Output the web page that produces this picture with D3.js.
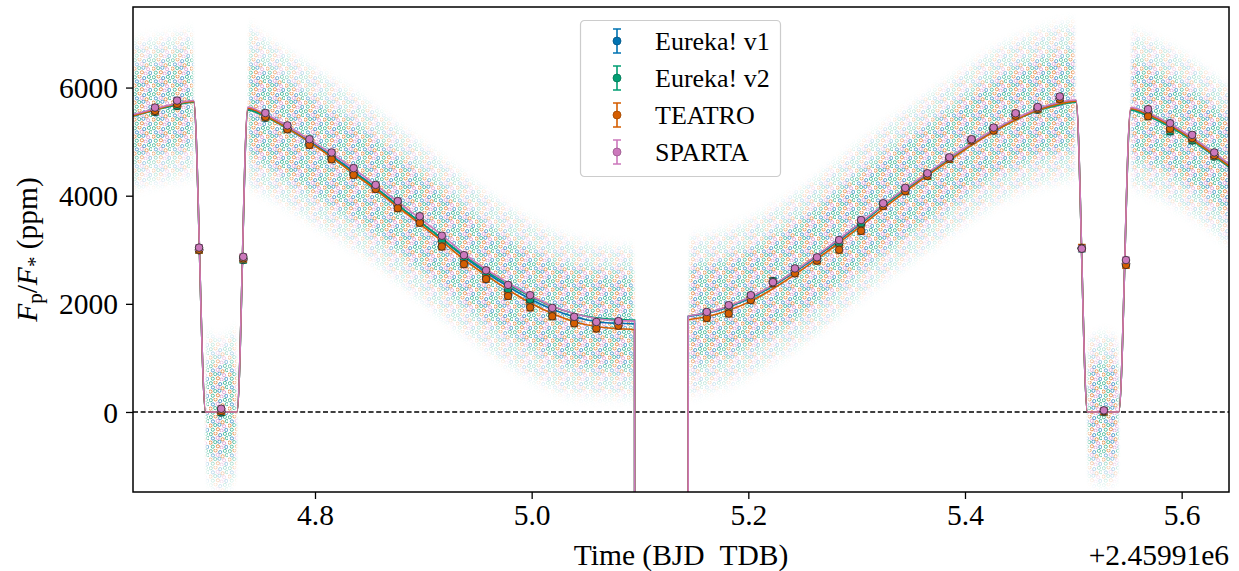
<!DOCTYPE html>
<html>
<head>
<meta charset="utf-8">
<script src="https://cdn.jsdelivr.net/npm/d3@7"></script>
<style>
  body { margin: 0; background: #fff; }
  svg text { font-family: "Liberation Serif", "Times New Roman", serif; fill: #000; }
</style>
</head>
<body>
<svg id="chart" width="1239" height="571"></svg>
<script>
// ---- data (time in BJD_TDB - 2459910) ----
var seriesNames  = ["Eureka! v1", "Eureka! v2", "TEATRO", "SPARTA"];
var seriesColors = ["#0173B2", "#029E73", "#D55E00", "#CC78BC"];
var seriesErr    = [55, 55, 60, 50];

var binTimes = [4.6523, 4.6727, 4.6930, 4.7134, 4.7338, 4.7542, 4.7745, 4.7949, 4.8153, 4.8356,
  4.8560, 4.8764, 4.8967, 4.9171, 4.9375, 4.9579, 4.9782, 4.9986, 5.0190, 5.0393, 5.0597, 5.0801,
  5.1616, 5.1819, 5.2023, 5.2227, 5.2430, 5.2634, 5.2838, 5.3041, 5.3245, 5.3449, 5.3653, 5.3856,
  5.4060, 5.4264, 5.4467, 5.4671, 5.4875, 5.5078, 5.5282, 5.5486, 5.5690, 5.5893, 5.6097, 5.6301];

var binV1 = [5580, 5690, 3010, 10, 2830, 5470, 5250, 4990, 4740, 4450, 4160, 3820, 3550, 3150, 2850,
  2510, 2230, 2020, 1840, 1690, 1610, 1640, 1800, 1930, 2120, 2410, 2610, 2830, 3110, 3480, 3830,
  4110, 4390, 4690, 5030, 5240, 5500, 5610, 5800, 3030, 10, 2750, 5540, 5250, 5060, 4760];
var binV2 = [5550, 5660, 2990, -10, 2810, 5440, 5240, 4980, 4720, 4430, 4150, 3810, 3540, 3150, 2830,
  2560, 2270, 2080, 1880, 1720, 1650, 1670, 1810, 1930, 2120, 2420, 2610, 2830, 3120, 3490, 3830,
  4110, 4390, 4690, 5030, 5230, 5500, 5590, 5790, 3020, 0, 2740, 5520, 5190, 5020, 4725];
var binTeatro = [5570, 5700, 3000, 20, 2840, 5460, 5230, 4940, 4675, 4385, 4125, 3770, 3500, 3060, 2735,
  2460, 2145, 1935, 1770, 1640, 1545, 1595, 1740, 1820, 2070, 2380, 2565, 2800, 3000, 3350, 3810,
  4085, 4365, 4680, 5020, 5205, 5480, 5610, 5790, 3035, 15, 2720, 5470, 5240, 5065, 4750];
var binSparta = [5630, 5760, 3040, 60, 2870, 5530, 5300, 5045, 4800, 4510, 4200, 3900, 3620, 3260, 2900,
  2620, 2350, 2160, 1925, 1760, 1665, 1680, 1850, 1975, 2160, 2400, 2655, 2860, 3180, 3550, 3860,
  4145, 4415, 4710, 5045, 5260, 5525, 5640, 5835, 3020, 30, 2810, 5600, 5340, 5125, 4800];

// model curves (knots incl. eclipse / transit contact points)
var modelTimes = [4.632, 4.6523, 4.6727, 4.688, 4.699, 4.728, 4.738, 4.7542, 4.7745, 4.7949, 4.8153,
  4.8356, 4.8560, 4.8764, 4.8967, 4.9171, 4.9375, 4.9579, 4.9782, 4.9986, 5.0190, 5.0393, 5.0597,
  5.0801, 5.095, 5.0955, 5.1440, 5.1445, 5.1616, 5.1819, 5.2023, 5.2227, 5.2430, 5.2634, 5.2838,
  5.3041, 5.3245, 5.3449, 5.3653, 5.3856, 5.4060, 5.4264, 5.4467, 5.4671, 5.4875, 5.5025, 5.513,
  5.542, 5.553, 5.5690, 5.5893, 5.6097, 5.6301, 5.6437];
var modelV1 = [5490, 5600, 5700, 5750, 0, 0, 5600, 5480, 5260, 5010, 4740, 4450, 4150, 3830, 3520,
  3200, 2870, 2580, 2320, 2090, 1900, 1760, 1670, 1640, 1630, -30000, -30000, 1760, 1820, 1940, 2110,
  2330, 2590, 2880, 3180, 3490, 3810, 4110, 4400, 4680, 4950, 5200, 5410, 5590, 5710, 5760, 0, 0,
  5600, 5500, 5300, 5050, 4760, 4560];
var modelV2 = [5470, 5580, 5680, 5730, 0, 0, 5580, 5460, 5240, 4990, 4720, 4430, 4140, 3820, 3520,
  3210, 2890, 2610, 2360, 2140, 1950, 1820, 1740, 1710, 1700, -30000, -30000, 1770, 1830, 1950, 2120,
  2340, 2600, 2890, 3190, 3500, 3810, 4110, 4400, 4680, 4940, 5190, 5400, 5570, 5680, 5730, 0, 0,
  5580, 5470, 5270, 5020, 4730, 4530];
var modelTeatro = [5480, 5590, 5700, 5745, 0, 0, 5620, 5480, 5250, 4990, 4710, 4410, 4110, 3790, 3480,
  3160, 2820, 2530, 2260, 2020, 1820, 1670, 1580, 1540, 1520, -30000, -30000, 1700, 1760, 1880, 2050,
  2280, 2540, 2830, 3130, 3440, 3760, 4070, 4370, 4650, 4930, 5180, 5400, 5580, 5700, 5750, 0, 0,
  5610, 5500, 5300, 5040, 4750, 4550];
var modelSparta = [5500, 5610, 5710, 5760, 0, 0, 5640, 5510, 5290, 5040, 4780, 4500, 4200, 3890, 3580,
  3270, 2930, 2640, 2390, 2160, 1960, 1820, 1730, 1690, 1680, -30000, -30000, 1770, 1830, 1960, 2130,
  2350, 2610, 2900, 3200, 3510, 3830, 4130, 4420, 4700, 4970, 5220, 5430, 5610, 5730, 5770, 0, 0,
  5630, 5530, 5330, 5080, 4790, 4590];

// extent of the raw (unbinned) point cloud; null separates gaps
var cloudTimes = [4.632, 4.660, 4.687, null, 4.700, 4.713, 4.727, null,
  4.739, 4.76, 4.80, 4.84, 4.88, 4.92, 4.96, 5.00, 5.04, 5.094, null,
  5.146, 5.18, 5.22, 5.26, 5.30, 5.34, 5.38, 5.42, 5.46, 5.501, null,
  5.514, 5.528, 5.541, null, 5.554, 5.58, 5.61, 5.6437];
var cloudCoreHi = [6300, 6450, 6550, null, 800, 850, 850, null,
  6450, 6250, 5700, 5250, 4650, 4030, 3400, 2930, 2620, 2500, null,
  2620, 2780, 3170, 3690, 4330, 4930, 5470, 6030, 6410, 6610, null,
  800, 850, 800, null, 6450, 6250, 5900, 5400];
var cloudCoreLo = [4700, 4850, 4950, null, -750, -800, -750, null,
  4800, 4550, 4050, 3550, 2950, 2330, 1710, 1230, 920, 800, null,
  920, 1080, 1470, 1990, 2630, 3230, 3770, 4330, 4710, 4910, null,
  -750, -800, -750, null, 4750, 4550, 4200, 3700];
var cloudOuterHi = [6800, 6900, 7000, null, 1400, 1300, 1500, null,
  7100, 6800, 6300, 5800, 5200, 4600, 4000, 3500, 3150, 3000, null,
  3170, 3330, 3720, 4240, 4880, 5480, 6020, 6580, 6960, 7160, null,
  1300, 1400, 1300, null, 7000, 6800, 6450, 5950];
var cloudOuterLo = [4200, 4300, 4400, null, -1200, -1400, -1200, null,
  4200, 4000, 3500, 3000, 2400, 1750, 1150, 650, 350, 300, null,
  370, 530, 920, 1440, 2080, 2680, 3220, 3780, 4160, 4360, null,
  -1200, -1300, -1200, null, 4200, 4000, 3650, 3150];

var xTicks = [4.8, 5.0, 5.2, 5.4, 5.6];
var yTicks = [0, 2000, 4000, 6000];

// ---- chart ----
var svg = d3.select("#chart"),
    margin = {top: 7, right: 10, bottom: 79, left: 133};
var width  = 1239 - margin.left - margin.right;
var height = 571 - margin.top - margin.bottom;
var canvas = svg.append("g").attr("transform", "translate(" + margin.left + "," + margin.top + ")");

var x = d3.scaleLinear().domain([4.632, 5.6437]).range([0, width]);
var y = d3.scaleLinear().domain([-1480, 7490]).range([height, 0]);

var defs = svg.append("defs");
defs.append("clipPath").attr("id", "plotClip")
  .append("rect").attr("width", width).attr("height", height);

// texture of tiny hollow circles standing in for the raw points
var pat = defs.append("pattern").attr("id", "rawPts")
  .attr("patternUnits", "userSpaceOnUse").attr("width", 19).attr("height", 17);
var patDots = [[1.8, 2.2, 1], [6.5, 1.4, 2], [11.2, 3.1, 0], [15.9, 1.9, 1], [3.9, 6.4, 0],
  [8.7, 5.9, 3], [13.6, 7.3, 2], [17.8, 6.1, 1], [1.5, 10.6, 2], [6.2, 10.1, 1], [10.4, 9.8, 0],
  [15.1, 11.2, 3], [3.8, 14.7, 1], [8.9, 14.3, 2], [12.6, 15.6, 3], [17.3, 15.0, 0]];
patDots.forEach(function(d) {
  pat.append("circle").attr("cx", d[0]).attr("cy", d[1]).attr("r", 1.6)
    .attr("fill", "none").attr("stroke", seriesColors[d[2]])
    .attr("stroke-width", 0.9).attr("stroke-opacity", 0.72);
});

defs.append("filter").attr("id", "soft")
  .attr("filterUnits", "userSpaceOnUse").attr("x", -50).attr("y", -50)
  .attr("width", width + 100).attr("height", height + 100)
  .append("feGaussianBlur").attr("stdDeviation", "1.5 7");

var cloud = cloudTimes.map(function(t, i) {
  return {t: t, ch: cloudCoreHi[i], cl: cloudCoreLo[i], oh: cloudOuterHi[i], ol: cloudOuterLo[i]};
});
var outerArea = d3.area().defined(function(d) { return d.t !== null; })
  .x(function(d) { return x(d.t); })
  .y0(function(d) { return y(d.ol); }).y1(function(d) { return y(d.oh); })
  .curve(d3.curveMonotoneX);
var coreArea = d3.area().defined(function(d) { return d.t !== null; })
  .x(function(d) { return x(d.t); })
  .y0(function(d) { return y(d.cl); }).y1(function(d) { return y(d.ch); })
  .curve(d3.curveMonotoneX);

var mask = defs.append("mask").attr("id", "cloudMask")
  .attr("maskUnits", "userSpaceOnUse").attr("x", 0).attr("y", 0)
  .attr("width", width).attr("height", height);
var mg = mask.append("g").attr("filter", "url(#soft)");
mg.append("path").attr("d", outerArea(cloud)).attr("fill", "#6a6a6a");
mg.append("path").attr("d", coreArea(cloud)).attr("fill", "#ffffff");

var plot = canvas.append("g").attr("clip-path", "url(#plotClip)");

plot.append("rect").attr("width", width).attr("height", height)
  .attr("fill", "url(#rawPts)").attr("mask", "url(#cloudMask)");

// zero line
plot.append("line")
  .attr("x1", 0).attr("x2", width).attr("y1", y(0)).attr("y2", y(0))
  .attr("stroke", "#000").attr("stroke-width", 1.3).attr("stroke-dasharray", "5,2.6");

// models
var models = [modelV1, modelV2, modelTeatro, modelSparta];
var line = d3.line().curve(d3.curveMonotoneX)
  .x(function(d) { return x(d[0]); })
  .y(function(d) { return y(d[1]); });
models.forEach(function(m, k) {
  plot.append("path")
    .datum(modelTimes.map(function(t, i) { return [t, m[i]]; }))
    .attr("d", line)
    .attr("fill", "none")
    .attr("stroke", seriesColors[k])
    .attr("stroke-width", 1.6);
});

// binned points with error bars
var bins = [binV1, binV2, binTeatro, binSparta];
bins.forEach(function(b, k) {
  var data = binTimes.map(function(t, i) { return {t: t, v: b[i]}; });
  var g = plot.append("g").attr("class", "bins");
  var e = seriesErr[k];
  g.selectAll("path.err")
    .data(data)
    .enter().append("path")
      .attr("class", "err")
      .attr("d", function(d) {
        var cx = x(d.t), y0 = y(d.v - e), y1 = y(d.v + e);
        return "M" + (cx - 3.8) + "," + y1 + "H" + (cx + 3.8) +
               "M" + cx + "," + y1 + "V" + y0 +
               "M" + (cx - 3.8) + "," + y0 + "H" + (cx + 3.8);
      })
      .attr("fill", "none").attr("stroke", seriesColors[k]).attr("stroke-width", 1.6);
  g.selectAll("circle")
    .data(data)
    .enter().append("circle")
      .attr("cx", function(d) { return x(d.t); })
      .attr("cy", function(d) { return y(d.v); })
      .attr("r", 3.8)
      .attr("fill", seriesColors[k])
      .attr("stroke", "#2a2a2a").attr("stroke-width", 0.8);
});

// axes
var xAxis = d3.axisBottom(x).tickValues(xTicks).tickSize(7).tickPadding(5)
  .tickFormat(d3.format(".1f"));
var yAxis = d3.axisLeft(y).tickValues(yTicks).tickSize(7).tickPadding(8)
  .tickFormat(d3.format("d"));

var gx = canvas.append("g").attr("transform", "translate(0," + height + ")").call(xAxis);
var gy = canvas.append("g").call(yAxis);
[gx, gy].forEach(function(g) {
  g.select(".domain").remove();
  g.selectAll(".tick line").attr("stroke", "#000").attr("stroke-width", 1.3);
  g.selectAll(".tick text").style("font-size", "29.5px")
    .style("font-family", "'Liberation Serif', serif").attr("fill", "#000");
});
gx.selectAll(".tick text").attr("dy", "0.72em");
gy.selectAll(".tick text").attr("dy", "0.34em");

canvas.append("rect").attr("width", width).attr("height", height)
  .attr("fill", "none").attr("stroke", "#000").attr("stroke-width", 1.5);

// labels
svg.append("text")
  .attr("x", margin.left + width / 2).attr("y", 565)
  .attr("text-anchor", "middle").style("font-size", "29.5px")
  .text("Time (BJD\u00a0\u00a0TDB)");

svg.append("text")
  .attr("x", 1229).attr("y", 565)
  .attr("text-anchor", "end").style("font-size", "29.5px")
  .text("+2.45991e6");

var yl = svg.append("text")
  .attr("transform", "translate(37," + (margin.top + height / 2) + ") rotate(-90)")
  .attr("text-anchor", "middle").style("font-size", "29.5px");
yl.append("tspan").style("font-style", "italic").text("F");
yl.append("tspan").attr("baseline-shift", "-25%").style("font-size", "21px").text("p");
yl.append("tspan").text("/");
yl.append("tspan").style("font-style", "italic").text("F");
yl.append("tspan").attr("baseline-shift", "-25%").style("font-size", "21px").text("*");
yl.append("tspan").text(" (ppm)");

// legend
var leg = svg.append("g").attr("transform", "translate(580.5,20.5)");
leg.append("rect").attr("width", 200).attr("height", 156).attr("rx", 4)
  .attr("fill", "#fff").attr("fill-opacity", 0.8)
  .attr("stroke", "#cccccc").attr("stroke-width", 1.2);
seriesNames.forEach(function(name, k) {
  var ly = 20.5 + k * 37;
  var row = leg.append("g").attr("transform", "translate(36.5," + ly + ")");
  row.append("path")
    .attr("d", "M-4,-12H4M0,-12V12M-4,12H4")
    .attr("fill", "none").attr("stroke", seriesColors[k]).attr("stroke-width", 1.6);
  row.append("circle").attr("r", 4).attr("fill", seriesColors[k])
    .attr("stroke", d3.color(seriesColors[k]).darker(0.8)).attr("stroke-width", 0.8);
  row.append("text").attr("x", 38).attr("y", 9).style("font-size", "26px").text(name);
});
</script>
</body>
</html>
